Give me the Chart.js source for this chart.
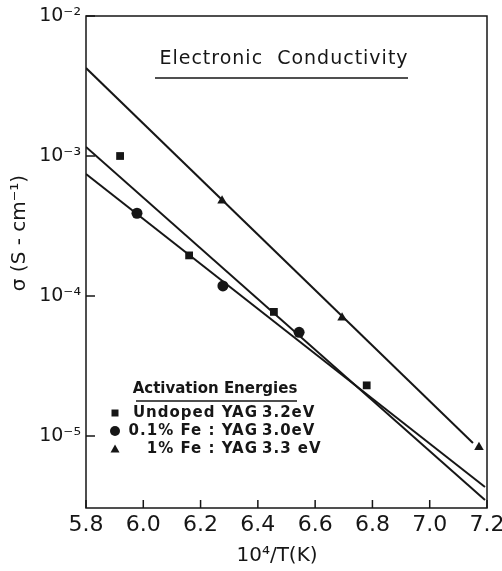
<!DOCTYPE html>
<html>
<head>
<meta charset="utf-8">
<title>Electronic Conductivity</title>
<script src="https://cdn.jsdelivr.net/npm/chart.js@4.4.0/dist/chart.umd.min.js"></script>
<style>
  html, body { margin: 0; padding: 0; background: #fff; }
  #wrap { width: 502px; height: 571px; position: relative; }
</style>
</head>
<body>
<div id="wrap"><canvas id="chart-sigma"></canvas></div>
<script>
// measured points, x = 10^4/T (K), sigma in S/cm
const undopedX = [5.919, 6.16, 6.456, 6.78];
const undopedS = [1.0e-3, 1.95e-4, 7.7e-5, 2.3e-5];
const fe01X    = [5.978, 6.278, 6.544];
const fe01S    = [3.9e-4, 1.18e-4, 5.5e-5];
const fe1X     = [6.275, 6.694, 7.172];
const fe1S     = [4.8e-4, 7.0e-5, 8.3e-6];

// Arrhenius fits (end points)
const fitUndopedX = [5.8, 7.193];
const fitUndopedS = [1.16e-3, 3.49e-6];
const fitFe01X    = [5.8, 7.193];
const fitFe01S    = [7.44e-4, 4.32e-6];
const fitFe1X     = [5.8, 7.151];
const fitFe1S     = [4.25e-3, 8.9e-6];

const xTicks = [5.8, 6.0, 6.2, 6.4, 6.6, 6.8, 7.0, 7.2];
const yTicks = [1e-5, 1e-4, 1e-3, 1e-2];

const seriesNames = ['Undoped YAG', '0.1% Fe : YAG', '1% Fe : YAG'];
const energies    = ['3.2eV', '3.0eV', '3.3 eV'];
const markers     = ['rect', 'circle', 'triangle'];

const INK  = '#161616';
const FONT = '"DejaVu Sans", sans-serif';

const pts = (xs, ys) => xs.map((x, i) => ({ x, y: ys[i] }));
const sup = s => s.replace(/[-0-9]/g, c => ({ '-': '⁻', '0': '⁰', '1': '¹', '2': '²', '3': '³',
  '4': '⁴', '5': '⁵', '6': '⁶', '7': '⁷', '8': '⁸', '9': '⁹' })[c]);

function fitLine(xs, ys) {
  return { data: pts(xs, ys), showLine: true, pointRadius: 0, borderColor: INK,
           borderWidth: 2, backgroundColor: INK };
}
function marks(xs, ys, style, r) {
  return { data: pts(xs, ys), showLine: false, pointStyle: style, pointRadius: r,
           pointBackgroundColor: INK, pointBorderColor: INK, pointBorderWidth: 0 };
}

function drawMarker(ctx, style, x, y, r) {
  ctx.beginPath();
  if (style === 'rect') {
    ctx.rect(x - r, y - r, 2 * r, 2 * r);
  } else if (style === 'circle') {
    ctx.arc(x, y, r, 0, Math.PI * 2);
  } else {
    ctx.moveTo(x, y - r);
    ctx.lineTo(x + r, y + r * 0.8);
    ctx.lineTo(x - r, y + r * 0.8);
    ctx.closePath();
  }
  ctx.fill();
}

// no automatic label overhang, the plot box is fixed by layout padding
function noOverhang(s) {
  s.paddingLeft = 0;
  s.paddingRight = 0;
  s.paddingTop = 0;
  s.paddingBottom = 0;
}

// frame, inward ticks, caption, legend block and axis titles
const annotations = {
  id: 'annotations',
  afterDraw(chart) {
    const { ctx, chartArea: a, scales } = chart;
    ctx.save();
    ctx.strokeStyle = INK;
    ctx.fillStyle = INK;
    ctx.lineWidth = 1.5;
    ctx.strokeRect(a.left, a.top, a.right - a.left, a.bottom - a.top);

    ctx.beginPath();
    xTicks.forEach(v => {
      const px = scales.x.getPixelForValue(v);
      ctx.moveTo(px, a.bottom);
      ctx.lineTo(px, a.bottom - 8);
    });
    yTicks.forEach(v => {
      const py = scales.y.getPixelForValue(v);
      ctx.moveTo(a.left, py);
      ctx.lineTo(a.left + 9, py);
    });
    ctx.stroke();

    // caption
    ctx.textAlign = 'center';
    ctx.textBaseline = 'middle';
    ctx.font = '19px ' + FONT;
    ctx.letterSpacing = '1px';
    ctx.fillText('Electronic  Conductivity', 284, 59);
    ctx.beginPath();
    ctx.moveTo(155, 78);
    ctx.lineTo(408, 78);
    ctx.stroke();

    // legend
    ctx.font = 'bold 15px ' + FONT;
    ctx.letterSpacing = '0px';
    ctx.fillText('Activation Energies', 215, 389);
    ctx.beginPath();
    ctx.moveTo(136, 401);
    ctx.lineTo(297, 401);
    ctx.stroke();
    const sizes = [3.5, 5, 4.5];
    ctx.letterSpacing = '1px';
    seriesNames.forEach((name, i) => {
      const y = 413 + i * 18;
      drawMarker(ctx, markers[i], 115, y, sizes[i]);
      ctx.font = 'bold 15px ' + FONT;
      ctx.textAlign = 'right';
      ctx.fillText(name, 258, y);
      ctx.textAlign = 'left';
      ctx.fillText(energies[i], 262, y);
    });

    // axis titles
    ctx.letterSpacing = '0px';
    ctx.textAlign = 'center';
    ctx.font = '20px ' + FONT;
    ctx.fillText('10' + sup('4') + '/T(K)', 277, 556);
    ctx.translate(20, 233);
    ctx.rotate(-Math.PI / 2);
    ctx.fillText('σ (S - cm' + sup('-1') + ')', 0, 0);
    ctx.restore();
  }
};

new Chart(document.getElementById('chart-sigma'), {
  type: 'scatter',
  data: {
    datasets: [
      fitLine(fitFe1X, fitFe1S),
      fitLine(fitUndopedX, fitUndopedS),
      fitLine(fitFe01X, fitFe01S),
      marks(undopedX, undopedS, 'rect', 5.5),
      marks(fe01X, fe01S, 'circle', 5.5),
      marks(fe1X, fe1S, 'triangle', 5.5),
    ],
  },
  options: {
    responsive: true,
    maintainAspectRatio: false,
    animation: false,
    layout: { padding: { left: 0, top: 16, right: 15, bottom: 0 } },
    plugins: { legend: { display: false }, tooltip: { enabled: false } },
    scales: {
      x: {
        type: 'linear',
        min: 5.8,
        max: 7.2,
        afterBuildTicks: s => { s.ticks = xTicks.map(v => ({ value: v })); },
        afterFit: s => { s.height = 63; noOverhang(s); },
        grid: { drawOnChartArea: false, drawTicks: false },
        border: { display: false },
        ticks: {
          color: INK, padding: 4, maxRotation: 0, autoSkip: false,
          font: { family: FONT, size: 22 },
          callback: v => v.toFixed(1),
        },
      },
      y: {
        type: 'logarithmic',
        min: 3.06e-6,
        max: 1e-2,
        afterBuildTicks: s => { s.ticks = yTicks.map(v => ({ value: v })); },
        afterFit: s => { s.width = 86; noOverhang(s); },
        grid: { drawOnChartArea: false, drawTicks: false },
        border: { display: false },
        ticks: {
          color: INK, padding: 5, autoSkip: false,
          font: { family: FONT, size: 19 },
          callback: v => '10' + sup(String(Math.round(Math.log10(v)))),
        },
      },
    },
  },
  plugins: [annotations],
});
</script>
</body>
</html>
